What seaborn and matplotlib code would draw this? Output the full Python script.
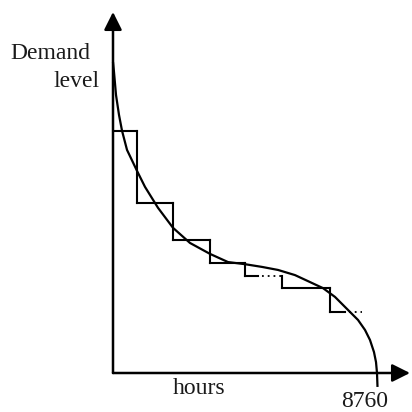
import matplotlib
matplotlib.use("Agg")
import matplotlib.pyplot as plt
import seaborn as sns
import pandas as pd

# Load duration curve (hours, demand level in % of peak)
hours = [0, 33, 100, 200, 300, 465, 796, 1062, 1493, 1991, 2555, 3218, 3816,
         4380, 4944, 5475, 6039, 6537, 6968, 7366, 7798, 8130, 8362, 8527,
         8660, 8727, 8760, 8777]
demand = [102.6, 99.3, 91.7, 85.1, 79.9, 73.6, 66.7, 61.4, 54.5, 47.9, 42.9,
          39.3, 36.6, 35.9, 35.0, 34.0, 32.3, 30.0, 28.0, 25.1, 20.8, 17.5,
          14.2, 10.9, 6.9, 3.6, 0.0, -4.6]

# Step approximation
step_edges = [0, 800, 2000, 3220, 4380, 5610, 7200, 8260]
step_levels = [80, 56, 44, 36.3, 32, 28, 20]
step_solid_end = [800, 2000, 3220, 4380, 4810, 7200, 7700]

y_label_lines = ["Demand", "level"]
x_label = "hours"
end_label = "8760"

sns.set_theme(style="white")
plt.rcParams['font.family'] = ['Liberation Serif', 'DejaVu Serif']

W = 412.0
fig = plt.figure(figsize=(4.12, 4.12), dpi=100)
fig.patch.set_facecolor("white")
ax = fig.add_axes([113 / W, (W - 373) / W, (410 - 113) / W, (373 - 12) / W])
ax.set_xlim(0, 9855)
ax.set_ylim(0, 119.1)
ax.axis("off")

# axes with arrow heads
for tip in [(1, 0), (0, 1)]:
    ax.annotate("", xy=tip, xytext=(0, 0), xycoords="axes fraction",
                arrowprops=dict(arrowstyle="-|>", lw=1.8, color="black",
                                mutation_scale=27, shrinkA=0, shrinkB=0))

# curve
df = pd.DataFrame({"hours": hours, "demand": demand})
sns.lineplot(data=df, x="hours", y="demand", sort=False, estimator=None,
             color="black", lw=1.6, ax=ax, clip_on=False,
             solid_joinstyle="round", solid_capstyle="butt")

# steps
n = len(step_levels)
for i in range(n):
    lvl = step_levels[i]
    ax.plot([step_edges[i], step_solid_end[i]], [lvl, lvl], color="black",
            lw=1.5, solid_capstyle="projecting")
    if step_solid_end[i] < step_edges[i + 1]:
        ax.plot([step_solid_end[i], step_edges[i + 1]], [lvl, lvl],
                color="black", lw=1.3, linestyle=(1, (1, 2.2)))
    if i + 1 < n:
        ax.plot([step_edges[i + 1], step_edges[i + 1]],
                [lvl, step_levels[i + 1]], color="black", lw=1.5,
                solid_capstyle="projecting")

def ftext(x, y, s, **kw):
    fig.text(x / W, 1 - y / W, s, fontsize=17, color="#1a1a1a",
             va="baseline", **kw)

ftext(50, 59, y_label_lines[0], ha="center")
ftext(100, 87, y_label_lines[1], ha="right")
ftext(199.5, 394, x_label, ha="center")
ftext(364.5, 407, end_label, ha="center")

ax.set_xlabel("")
ax.set_ylabel("")
fig.savefig("out.png", dpi=100, facecolor="white")
